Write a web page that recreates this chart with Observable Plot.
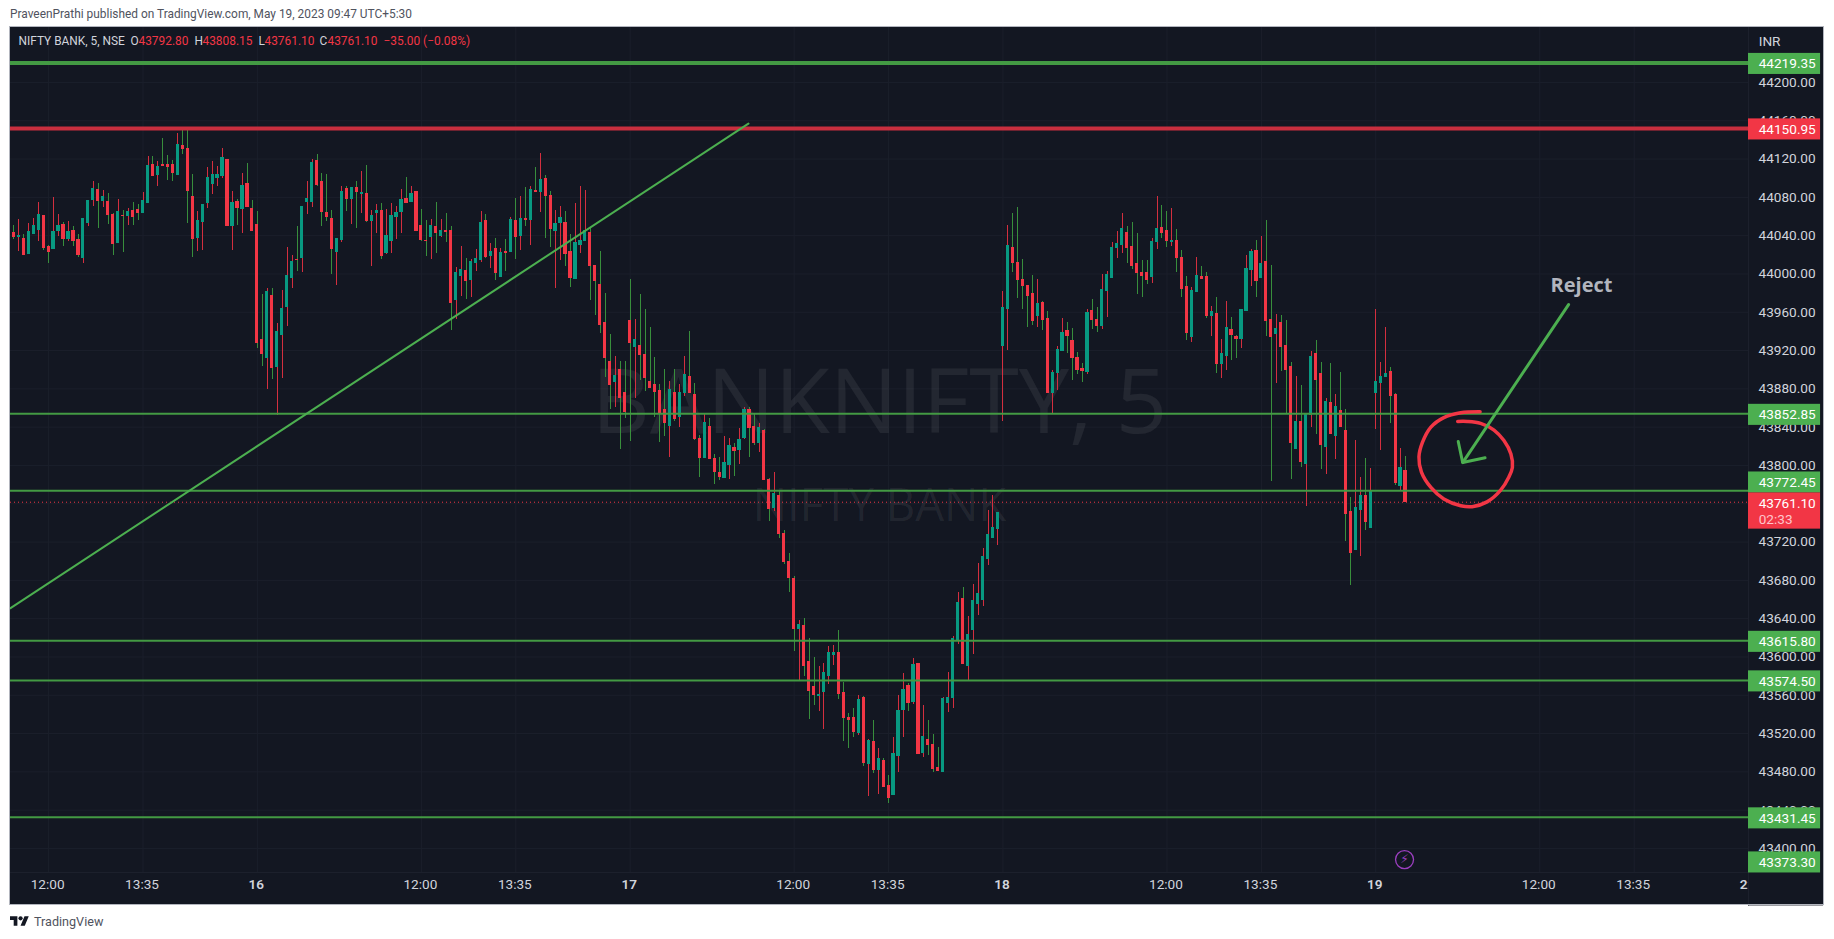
<!DOCTYPE html>
<html>
<head>
<meta charset="utf-8">
<script src="https://cdn.jsdelivr.net/npm/d3@7"></script>
<script src="https://cdn.jsdelivr.net/npm/@observablehq/plot@0.6"></script>
<style>
html,body{margin:0;padding:0;background:#fff;width:1834px;height:939px;overflow:hidden}
#head{height:27px;padding-left:10px;font:11.9px/29px Roboto,sans-serif;color:#50535e}
#chart{padding-left:10px;height:877px}
#foot{height:35px;padding-left:10px;display:flex;align-items:center;gap:5px;font:12.6px Roboto,sans-serif;color:#50535e}
svg{display:block}
</style>
</head>
<body>
<div id="head">PraveenPrathi published on TradingView.com, May 19, 2023 09:47 UTC+5:30</div>
<div id="chart"></div>
<div id="foot"><svg width="19" height="15" viewBox="0 0 36 28"><path fill="#131722" d="M14 22H7V11H0V4h14v18zM28 22h-8l7.5-18h8L28 22z"/><circle fill="#131722" cx="20" cy="8" r="4"/></svg><span>TradingView</span></div>
<script>
const opens = [44042,44037,44036,44020,44041,44045,44060,44027,44025,44044,
44050,44035,44044,44035,44016,44052,44076,44087,44075,44074,
44061,44031,44060,44059,44065,44066,44063,44073,44113,44102,
44113,44113,44113,44102,44133,44130,44079,44036,44053,44073,
44093,44099,44101,44118,44049,44074,44067,44093,44067,44050,
43930,43911,43976,43902,43935,43964,43995,44014,44016,44074,
44074,44117,44095,44063,44057,44022,44034,44088,44077,44089,
44082,44083,44054,44063,44065,44021,44033,44058,44064,44077,
44074,44085,44049,44034,44037,44048,44038,44044,44044,43972,
43997,44002,43993,44010,44013,44054,44018,44025,43996,44022,
44022,44054,44038,44057,44055,44086,44084,44098,44081,44044,
44052,44052,44022,43994,44029,44033,44042,44007,43988,43948,
43907,43886,43899,43875,43950,43923,43924,43914,43886,43883,
43877,43857,43840,43875,43849,43875,43891,43873,43827,43807,
43839,43806,43791,43786,43799,43817,43815,43827,43857,43839,
43822,43835,43784,43754,43767,43727,43698,43681,43628,43631,
43594,43568,43558,43562,43579,43601,43603,43561,43535,43535,
43519,43556,43487,43510,43481,43490,43464,43455,43495,43543,
43569,43552,43592,43499,43512,43507,43483,43479,43551,43556,
43617,43660,43589,43627,43654,43658,43701,43723,43732,43924,
43962,44026,44011,43993,43987,43978,43955,43969,43952,43874,
43895,43918,43940,43929,43911,43900,43896,43960,43951,43944,
43981,43995,44026,44029,44042,44027,44009,44000,44000,43996,
44032,44047,44044,44032,44034,44016,43985,43933,43980,43996,
43996,43955,43957,43905,43913,43941,43933,43931,43960,44003,
44023,43995,44012,43951,43936,43948,43924,43902,43816,43844,
43800,43852,43916,43895,43818,43864,43830,43856,43835,43750,
43711,43752,43767,43734,43874,43885,43891,43897,43873,43777,
43792.8];
const closes = [44037,44039,44019,44043,44049,44061,44026,44022,44043,44049,
44035,44043,44033,44019,44056,44075,44088,44075,44079,44060,
44030,44064,44059,44064,44058,44062,44075,44112,44101,44111,
44112,44111,44104,44134,44129,44085,44035,44054,44071,44099,
44102,44102,44120,44049,44073,44068,44091,44069,44044,43927,
43915,43980,43901,43938,43963,43997,44012,44013,44069,44077,
44115,44092,44064,44058,44025,44036,44085,44077,44089,44084,
44084,44054,44060,44065,44018,44039,44060,44063,44076,44073,
44083,44044,44034,44033,44049,44042,44044,44043,43969,44000,
44003,43992,44012,44015,44052,44017,44022,44000,44021,44021,
44055,44037,44056,44055,44087,44084,44097,44080,44046,44051,
44058,44020,43995,44031,44033,44044,44007,43991,43946,43911,
43883,43893,43869,43855,43927,43930,43914,43890,43880,43876,
43853,43843,43878,43847,43875,43894,43874,43826,43807,43843,
43806,43792,43787,43802,43819,43814,43826,43857,43838,43822,
43838,43784,43753,43769,43727,43698,43681,43628,43632,43589,
43563,43559,43559,43582,43603,43603,43560,43535,43533,43520,
43554,43488,43511,43481,43493,43463,43452,43498,43543,43565,
43551,43591,43498,43515,43507,43482,43480,43555,43556,43618,
43655,43592,43622,43658,43665,43704,43726,43734,43749,43964,
44028,44010,43993,43986,43976,43950,43968,43951,43875,43896,
43920,43937,43934,43911,43899,43897,43958,43951,43944,43982,
43998,44026,44030,44046,44026,44007,44000,43997,43993,44032,
44046,44042,44033,44034,44015,43983,43937,43981,43997,43994,
43955,43959,43905,43915,43943,43935,43931,43961,44004,44022,
43992,44009,43950,43933,43942,43923,43899,43822,43844,43802,
43853,43912,43888,43820,43865,43832,43860,43839,43748,43707,
43755,43767,43740,43771,43886,43891,43895,43871,43780,43796,
43761.1];
const highs = [44050,44056,44040,44052,44057,44074,44060,44029,44079,44061,
44053,44054,44049,44040,44056,44076,44096,44093,44086,44083,
44062,44077,44065,44067,44074,44071,44084,44122,44122,44116,
44140,44123,44117,44146,44149,44152,44103,44064,44071,44110,
44116,44111,44130,44118,44085,44077,44104,44114,44076,44064,
43978,43984,43984,43947,43982,44027,44018,44049,44069,44096,
44118,44124,44104,44103,44065,44036,44090,44090,44089,44095,
44106,44112,44065,44071,44073,44066,44073,44069,44087,44100,
44090,44085,44066,44055,44056,44074,44056,44062,44049,44006,
44028,44015,44014,44025,44064,44061,44031,44036,44026,44035,
44058,44078,44080,44089,44090,44110,44125,44102,44085,44065,
44069,44064,44040,44073,44090,44086,44046,44007,44022,43979,
43936,43913,43908,43908,43993,43951,43977,43962,43943,43912,
43883,43899,43887,43899,43883,43913,43939,43885,43830,43852,
43848,43810,43807,43829,43827,43822,43838,43859,43859,43853,
43843,43837,43785,43792,43772,43731,43707,43683,43637,43639,
43618,43598,43589,43592,43610,43611,43627,43572,43540,43545,
43559,43558,43513,43533,43503,43493,43475,43515,43559,43582,
43571,43597,43592,43548,43533,43518,43504,43557,43583,43620,
43666,43671,43641,43675,43697,43712,43752,43768,43750,43981,
44050,44062,44068,44014,43987,43997,43993,43970,43960,43898,
43923,43952,43948,43942,43917,43905,43962,43972,43964,43998,
44002,44032,44043,44062,44049,44053,44041,44013,44013,44036,
44080,44070,44064,44067,44045,44023,43996,43985,44016,44007,
44000,43965,43974,43931,43970,43954,43935,43962,44018,44025,
44034,44038,44055,44008,43957,43956,43950,43907,43892,43882,
43853,43918,43929,43907,43869,43905,43873,43896,43857,43766,
43825,43786,43806,43796,43962,43907,43943,43901,43874,43817,
43808.15];
const lows = [44035,44022,44018,44020,44041,44033,44023,44010,44025,44038,
44028,44033,44028,44016,44010,44049,44069,44046,44068,44051,
44018,44031,44021,44050,44050,44055,44062,44073,44101,44090,
44111,44097,44096,44102,44124,44052,44016,44022,44023,44067,
44082,44090,44099,44049,44023,44050,44041,44069,44044,43921,
43902,43878,43889,43851,43890,43944,43984,44002,44000,44061,
44068,44090,44049,44054,43998,43987,44032,44064,44051,44046,
44062,44053,44007,44041,44014,44019,44020,44035,44041,44073,
44074,44043,44033,44017,44014,44020,44037,44032,43940,43951,
43975,43972,43974,44002,44011,44015,44005,43992,43995,44002,
44022,44014,44023,44049,44029,44084,44063,44036,44027,43984,
44013,44007,43985,43993,44020,44033,43971,43956,43937,43891,
43857,43860,43816,43848,43824,43869,43888,43876,43880,43849,
43823,43829,43807,43845,43839,43871,43874,43825,43786,43807,
43806,43779,43783,43786,43784,43787,43800,43826,43807,43820,
43812,43784,43740,43751,43723,43696,43666,43605,43573,43579,
43534,43548,43542,43523,43570,43590,43555,43511,43503,43515,
43517,43485,43453,43477,43455,43463,43446,43455,43478,43515,
43542,43549,43498,43494,43496,43478,43480,43479,43541,43545,
43612,43592,43573,43602,43642,43652,43694,43723,43715,43845,
43919,44000,43973,43962,43943,43945,43943,43940,43875,43852,
43877,43918,43916,43888,43894,43886,43894,43941,43938,43941,
43954,43994,44015,44020,44010,44004,43978,43974,43988,43989,
44025,44036,44027,44028,44000,43974,43929,43927,43980,43993,
43952,43934,43895,43890,43898,43909,43911,43921,43960,43986,
43974,43995,43934,43782,43885,43897,43853,43784,43816,43797,
43756,43839,43831,43795,43790,43831,43805,43839,43720,43674,
43711,43704,43731,43734,43837,43815,43891,43843,43778,43772,
43761.1];

const priceTicks = d3.range(43400, 44201, 40);
const timeTicks = [7,26,82,101,157,176,232,251,307,326];
const timeLabels = ["12:00","13:35","12:00","13:35","12:00","13:35","12:00","13:35","12:00","13:35"];
const dayTicks = [49,124,199,274,349];
const dayLabels = ["16","17","18","19","22"];

const greenLevels = [43852.85,43772.45,43615.80,43574.50,43431.45];
const topGreen = 44219.35, topRed = 44150.95, lastPrice = 43761.10;
const greenBoxValues = [44219.35,43852.85,43772.45,43615.80,43574.50,43431.45,43373.30];
const greenBoxCentres = [44219.35,43852.85,43782.2,43615.80,43574.50,43431.45,43385.4];

const trendIdx = [-0.66,147.8], trendPrice = [43651,44157];
const arrowIdx = [312.8,291.5], arrowPrice = [43968,43803];
const barbIdx = [290.6,291.5,296.0], barbPrice = [43825,43803,43808];
const circleIdx = [295.0,291.1,287.7,285.1,283.4,282.7,283.2,285.1,287.7,291.1,293.4,296.4,299.1,300.8,301.5,301.2,299.8,297.8,295.1,292.4,290.5];
const circlePrice = [43856,43855,43850,43840,43824,43809,43793,43777,43765,43758,43757,43762,43774,43788,43798,43812,43826,43837,43844,43846,43846];

const headerLabels = ["NIFTY BANK, 5, NSE","O","43792.80","H","43808.15","L","43761.10","C","43761.10","−35.00 (−0.08%)"];
const headerRed = [false,false,true,false,true,false,true,false,true,true];
const headerDx = [8,120,128,184,192,248,254,309,317,373];

const candles = opens.map((o,i)=>({i,o,c:closes[i],h:highs[i],l:lows[i]}));
const UP="#089981", DOWN="#f23645", WICK_G="#388e3c", WICK_R="#d32f3f", GREEN="#4caf50", LEVEL="#439a43";
const right = 349, outer = 363.5, textI = 351.05, half = 11;
const fontFamily = "Roboto, sans-serif";

const chart = Plot.plot({
  width:1813, height:877, marginLeft:0, marginRight:75, marginTop:0, marginBottom:32,
  x:{type:"linear", domain:[-0.664,right]},
  y:{type:"linear", domain:[43374.9,44257.4]},
  style:{background:"#131722", color:"#d1d4dc", fontFamily, fontSize:"13.6px", outline:"1px solid #b2b5be", overflow:"visible"},
  marks:[
    Plot.gridY(priceTicks,{stroke:"#1b1f2b",strokeOpacity:1}),
    Plot.gridX([...timeTicks,...dayTicks],{stroke:"#1b1f2b",strokeOpacity:1}),
    Plot.text(["BANKNIFTY, 5"],{frameAnchor:"middle",dy:-46,fontSize:90,fill:"#fff",fillOpacity:0.07,fontFamily:"Open Sans, sans-serif"}),
    Plot.text(["NIFTY BANK"],{frameAnchor:"middle",dy:56,fontSize:45.6,fill:"#fff",fillOpacity:0.07,fontFamily:"Open Sans, sans-serif"}),
    Plot.ruleY([lastPrice],{stroke:DOWN,strokeWidth:1,strokeDasharray:"1,3",dy:-0.5}),
    Plot.ruleX(candles,{x:"i",y1:"l",y2:"h",dy:-1,stroke:d=>d.c>=d.o?WICK_R:WICK_G,strokeWidth:1,shapeRendering:"crispEdges"}),
    Plot.rect(candles,{x1:d=>d.i-0.32,x2:d=>d.i+0.32,y1:d=>Math.min(d.o,d.c)-0.4,y2:d=>Math.max(d.o,d.c)+0.4,dy:-1,fill:d=>d.c>=d.o?UP:DOWN,shapeRendering:"crispEdges"}),
    Plot.ruleY(greenLevels,{stroke:LEVEL,strokeWidth:2,dy:-1}),
    Plot.ruleY([topGreen],{stroke:LEVEL,strokeWidth:4,dy:-1}),
    Plot.ruleY([topRed],{stroke:"#c92f3f",strokeWidth:4,dy:-1}),
    Plot.line(trendIdx.map((x,i)=>[x,trendPrice[i]]),{stroke:GREEN,strokeWidth:2}),
    Plot.line(circleIdx.map((x,i)=>[x,circlePrice[i]]),{stroke:DOWN,strokeWidth:3.5,curve:"catmull-rom",strokeLinecap:"round"}),
    Plot.line(arrowIdx.map((x,i)=>[x,arrowPrice[i]]),{stroke:GREEN,strokeWidth:3,strokeLinecap:"round"}),
    Plot.line(barbIdx.map((x,i)=>[x,barbPrice[i]]),{stroke:GREEN,strokeWidth:3,strokeLinecap:"round",strokeLinejoin:"miter"}),
    Plot.text(["Reject"],{x:()=>315.4,y:()=>43988.3,fontSize:20,fontWeight:700,fill:"#b2b5be",fontFamily:"Open Sans, sans-serif"}),
    Plot.dot([0],{x:()=>279.8,y:()=>43388.4,r:9,stroke:"#9c3fc0",strokeWidth:1.3,fill:"none"}),
    Plot.text(["⚡"],{x:()=>279.8,y:()=>43388.4,fontSize:12,fill:"#9c3fc0",fontFamily:"DejaVu Sans"}),
    Plot.ruleY([43374.9],{stroke:"#1c202c"}),
    Plot.axisX(timeTicks,{anchor:"bottom",tickSize:0,tickPadding:7,dx:-1,label:null,tickFormat:(d,i)=>timeLabels[i]}),
    Plot.axisX(dayTicks,{anchor:"bottom",tickSize:0,tickPadding:7,dx:-1,label:null,fontWeight:600,tickFormat:(d,i)=>dayLabels[i]}),
    Plot.rect([0],{x1:()=>right,x2:()=>364.1,y1:()=>43340,y2:()=>44258,fill:"#131722"}),
    Plot.ruleX([right],{stroke:"#1c202c",y1:()=>43340,y2:()=>44258}),
    Plot.axisY(priceTicks,{anchor:"right",tickSize:0,tickPadding:10,label:null,tickFormat:d=>d.toFixed(2)}),
    Plot.rect(greenBoxCentres,{x1:()=>right,x2:()=>outer,y1:d=>d-half,y2:d=>d+half,fill:GREEN}),
    Plot.text(greenBoxCentres,{x:()=>textI,y:d=>d,text:(d,i)=>greenBoxValues[i].toFixed(2),fill:"#fff",textAnchor:"start"}),
    Plot.rect([topRed],{x1:()=>right,x2:()=>outer,y1:d=>d-half,y2:d=>d+half,fill:DOWN}),
    Plot.text([topRed],{x:()=>textI,y:d=>d,text:d=>d.toFixed(2),fill:"#fff",textAnchor:"start"}),
    Plot.rect([lastPrice],{x1:()=>right,x2:()=>outer,y1:()=>43733.5,y2:()=>43771.3,fill:DOWN}),
    Plot.text([lastPrice],{x:()=>textI,y:()=>43760,text:d=>d.toFixed(2),fill:"#fff",textAnchor:"start"}),
    Plot.text(["02:33"],{x:()=>textI,y:()=>43743.3,fill:"#ffc4cb",textAnchor:"start"}),
    Plot.text(["INR"],{x:()=>textI,frameAnchor:"top",dy:9,fill:"#d1d4dc",textAnchor:"start"}),
    ...headerLabels.map((t,i)=>Plot.text([t],{frameAnchor:"top-left",dx:headerDx[i],dy:9,fontSize:11.9,fill:headerRed[i]?DOWN:"#d1d4dc"}))
  ]
});
document.getElementById("chart").appendChild(chart);
</script>
</body>
</html>
